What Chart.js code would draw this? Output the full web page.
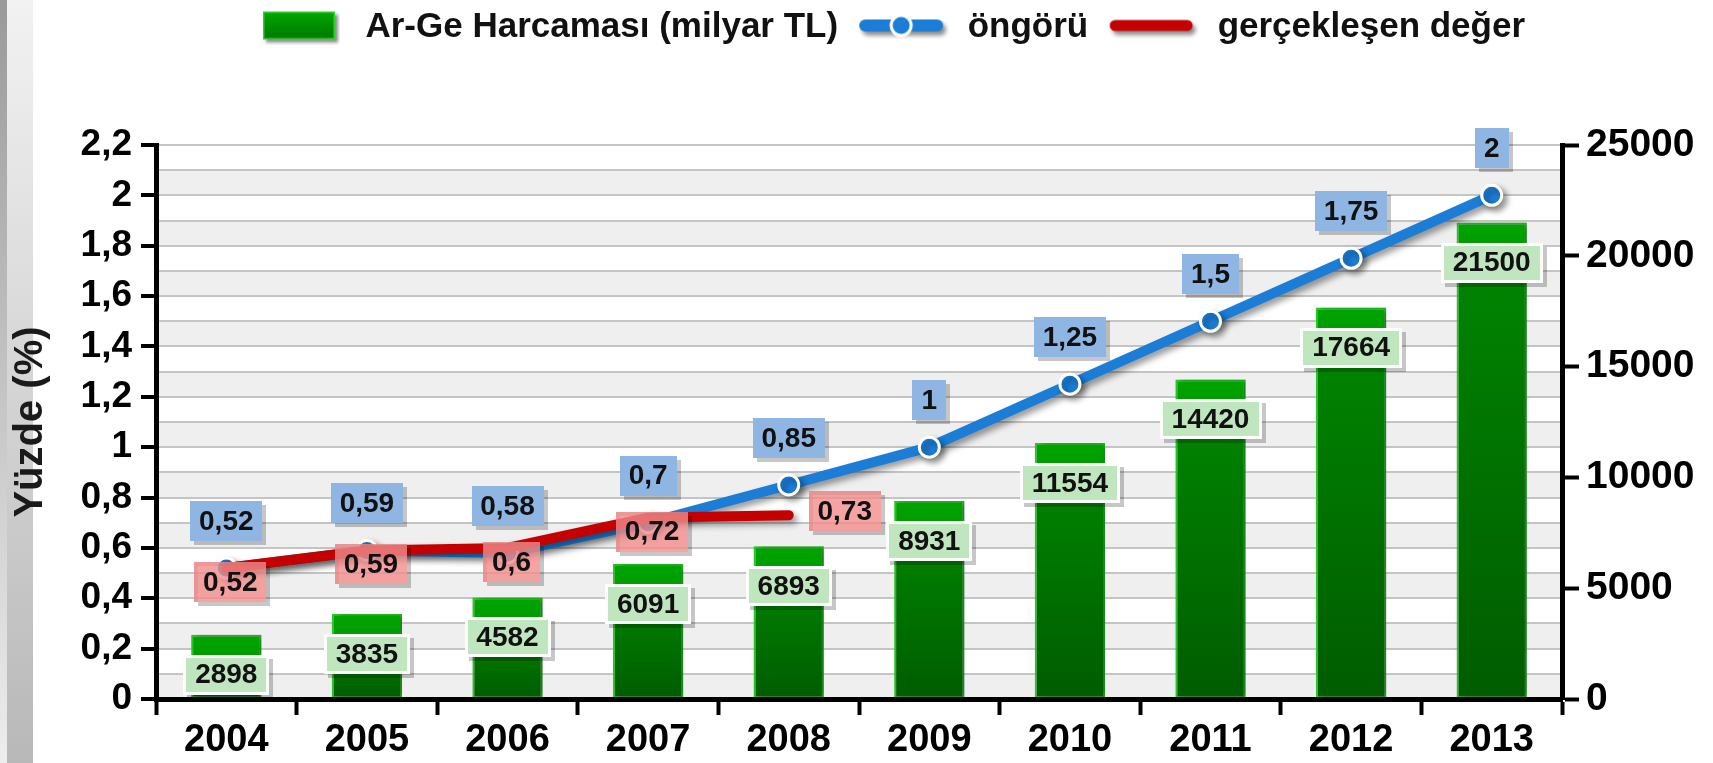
<!DOCTYPE html>
<html lang="tr">
<head>
    <meta charset="UTF-8">
    <title>Ar-Ge Harcaması</title>
    <script src="https://cdn.jsdelivr.net/npm/chart.js"></script>
    <style>
        body {
            margin: 0;
            background:
                linear-gradient(to bottom, #9a9a9a, #ededed) 0 0 / 7px 100% no-repeat,
                linear-gradient(to bottom, #f2f2f2, #b8b8b8) 7px 0 / 26px 100% no-repeat,
                #ffffff;
        }
        #wrap { width: 1713px; height: 763px; }
    </style>
</head>
<body>
<div id="wrap"><canvas id="argeChart" width="1713" height="763"></canvas></div>

<script>
    // data
    const years = ['2004', '2005', '2006', '2007', '2008', '2009', '2010', '2011', '2012', '2013'];
    const argeSpending = [2898, 3835, 4582, 6091, 6893, 8931, 11554, 14420, 17664, 21500];
    const forecastPct = [0.52, 0.59, 0.58, 0.7, 0.85, 1, 1.25, 1.5, 1.75, 2];
    const actualPct = [0.52, 0.59, 0.6, 0.72, 0.73, null, null, null, null, null];
    const pctMax = 2.2;
    const spendMax = 25000;

    const FONT = '"Liberation Sans", Arial, sans-serif';
    const BLUE = '#1b7dd6';
    const RED = '#c40000';

    const trComma = v => String(Math.round(v * 100) / 100).replace('.', ',');

    // small canvases used as legend symbols
    function makeIcon(w, h, paint) {
        const c = document.createElement('canvas');
        c.width = w; c.height = h;
        paint(c.getContext('2d'));
        return c;
    }
    const barIcon = makeIcon(78, 34, g => {
        g.shadowColor = 'rgba(0,0,0,0.45)'; g.shadowBlur = 3; g.shadowOffsetX = 3; g.shadowOffsetY = 3;
        const gr = g.createLinearGradient(0, 1, 0, 29);
        gr.addColorStop(0, '#00a800'); gr.addColorStop(1, '#007800');
        g.fillStyle = gr; g.fillRect(1, 1, 72, 28);
        g.shadowColor = 'transparent';
        g.strokeStyle = '#2ed12e'; g.lineWidth = 1.5; g.strokeRect(1.75, 1.75, 70.5, 26.5);
    });
    const forecastIcon = makeIcon(92, 32, g => {
        g.shadowColor = 'rgba(0,0,0,0.45)'; g.shadowBlur = 4; g.shadowOffsetX = 3; g.shadowOffsetY = 4;
        g.strokeStyle = BLUE; g.lineWidth = 12; g.lineCap = 'round';
        g.beginPath(); g.moveTo(8, 14); g.lineTo(80, 14); g.stroke();
        g.shadowColor = 'transparent';
        g.fillStyle = BLUE; g.strokeStyle = '#fff'; g.lineWidth = 3;
        g.beginPath(); g.arc(44, 14, 10, 0, Math.PI * 2); g.fill(); g.stroke();
    });
    const actualIcon = makeIcon(92, 28, g => {
        g.shadowColor = 'rgba(0,0,0,0.45)'; g.shadowBlur = 4; g.shadowOffsetX = 3; g.shadowOffsetY = 4;
        g.strokeStyle = RED; g.lineWidth = 11; g.lineCap = 'round';
        g.beginPath(); g.moveTo(8, 12); g.lineTo(80, 12); g.stroke();
    });

    // bar fill: bright band at the top, darker towards the base
    function barFill(context) {
        const chart = context.chart;
        if (!chart.chartArea || context.raw == null) return '#008800';
        const y2 = chart.scales.y2;
        const top = y2.getPixelForValue(context.raw);
        const bottom = y2.getPixelForValue(0);
        const h = Math.max(bottom - top, 1);
        const g = chart.ctx.createLinearGradient(0, top, 0, bottom);
        g.addColorStop(0, '#00a400');
        g.addColorStop(Math.min(0.98, 22 / h), '#009c00');
        g.addColorStop(Math.min(0.99, 24 / h), '#008600');
        g.addColorStop(1, '#005c00');
        return g;
    }

    // alternating light bands behind the grid
    const bandsPlugin = {
        id: 'bands',
        beforeDraw(chart) {
            const {ctx, chartArea: a, scales: {y}} = chart;
            ctx.save();
            ctx.fillStyle = '#ffffff';
            ctx.fillRect(a.left, a.top, a.right - a.left, a.bottom - a.top);
            ctx.fillStyle = '#efefef';
            for (let k = 0; k < 11; k++) {
                const y0 = y.getPixelForValue(k * 0.2);
                const y1 = y.getPixelForValue(k * 0.2 + 0.1);
                ctx.fillRect(a.left, y1, a.right - a.left, y0 - y1);
            }
            ctx.restore();
            // keep the legend where the reference has it
            const lg = chart.legend;
            lg.left = 66; lg.right = 1713; lg.top = -8;
        }
    };

    // drop shadows for bars and lines
    const shadowPlugin = {
        id: 'shadows',
        beforeDatasetDraw(chart, args) {
            const ctx = chart.ctx;
            ctx.save();
            ctx.shadowColor = 'rgba(0,0,0,0.4)';
            ctx.shadowBlur = 6;
            ctx.shadowOffsetX = 4;
            ctx.shadowOffsetY = args.meta.type === 'bar' ? 0 : 4;
        },
        afterDatasetDraw(chart) {
            chart.ctx.restore();
        }
    };

    function drawTag(ctx, text, cx, cy, fill, border, pad) {
        ctx.save();
        ctx.font = 'bold 28px ' + FONT;
        const w = Math.round(ctx.measureText(text).width + pad * 2), h = 40;
        const x = Math.round(cx - w / 2), y = Math.round(cy - h / 2);
        // shadow, but not under the box itself (fills may be translucent)
        ctx.beginPath();
        ctx.rect(x + 4, y + 4, w, h);
        ctx.rect(x, y, w, h);
        ctx.fillStyle = 'rgba(0,0,0,0.22)';
        ctx.fill('evenodd');
        ctx.fillStyle = fill;
        ctx.fillRect(x, y, w, h);
        if (border) {
            ctx.strokeStyle = border; ctx.lineWidth = 3;
            ctx.strokeRect(x + 1.5, y + 1.5, w - 3, h - 3);
        }
        ctx.fillStyle = '#111';
        ctx.textAlign = 'center';
        ctx.textBaseline = 'middle';
        ctx.fillText(text, cx, cy + 1);
        ctx.restore();
    }

    // value boxes on bars and points
    const tagsPlugin = {
        id: 'tags',
        afterDatasetsDraw(chart) {
            const ctx = chart.ctx;
            chart.getDatasetMeta(0).data.forEach((el, i) => {
                drawTag(ctx, String(argeSpending[i]), el.x, el.y + 40, '#c0e6c0', 'rgba(255,255,255,0.95)', 12);
            });
            chart.getDatasetMeta(1).data.forEach((el, i) => {
                drawTag(ctx, trComma(forecastPct[i]), el.x, el.y - 47, '#8fb6e2', null, 9);
            });
            const last = actualPct.reduce((acc, v, i) => v == null ? acc : i, 0);
            chart.getDatasetMeta(2).data.forEach((el, i) => {
                if (actualPct[i] == null) return;
                if (i === last) {
                    drawTag(ctx, trComma(actualPct[i]), el.x + 56, el.y - 4, 'rgba(242,140,140,0.8)', null, 9);
                } else {
                    drawTag(ctx, trComma(actualPct[i]), el.x + 4, el.y + 14, 'rgba(242,140,140,0.8)', null, 9);
                }
            });
        }
    };

    // fixed legend height so the plot starts at the same place
    const legendHeight = {
        id: 'legendHeight',
        beforeInit(chart) {
            const fit = chart.legend.fit;
            chart.legend.fit = function () {
                fit.bind(chart.legend)();
                this.height = 145;
            };
        }
    };

    const ctx = document.getElementById('argeChart').getContext('2d');

    new Chart(ctx, {
        type: 'bar',
        data: {
            labels: years,
            datasets: [
                {
                    type: 'bar',
                    label: 'Ar-Ge Harcaması (milyar TL)',
                    data: argeSpending,
                    yAxisID: 'y2',
                    backgroundColor: barFill,
                    borderColor: '#25c925',
                    borderWidth: 2,
                    borderSkipped: false,
                    barPercentage: 0.5,
                    categoryPercentage: 1.0,
                    order: 3
                },
                {
                    type: 'line',
                    label: 'öngörü',
                    data: forecastPct,
                    yAxisID: 'y',
                    borderColor: BLUE,
                    borderWidth: 10,
                    tension: 0,
                    pointRadius: 10,
                    pointBackgroundColor: BLUE,
                    pointBorderColor: '#ffffff',
                    pointBorderWidth: 3,
                    order: 2
                },
                {
                    type: 'line',
                    label: 'gerçekleşen değer',
                    data: actualPct,
                    yAxisID: 'y',
                    borderColor: RED,
                    borderWidth: 10,
                    borderCapStyle: 'round',
                    borderJoinStyle: 'round',
                    tension: 0,
                    pointRadius: 0,
                    spanGaps: false,
                    order: 1
                }
            ]
        },
        options: {
            responsive: false,
            animation: false,
            layout: { padding: 0 },
            plugins: {
                tooltip: { enabled: false },
                legend: {
                    position: 'top',
                    labels: {
                        usePointStyle: true,
                        pointStyleWidth: 94,
                        padding: 18,
                        color: '#111',
                        font: { family: FONT, size: 35, weight: 'bold' },
                        generateLabels(chart) {
                            const icons = [barIcon, forecastIcon, actualIcon];
                            return chart.data.datasets.map((ds, i) => ({
                                text: ds.label,
                                pointStyle: icons[i],
                                datasetIndex: i,
                                fontColor: '#111',
                                fillStyle: 'transparent',
                                strokeStyle: 'transparent',
                                lineWidth: 0,
                                hidden: false
                            }));
                        }
                    }
                }
            },
            scales: {
                x: {
                    offset: true,
                    grid: {
                        offset: true,
                        drawOnChartArea: false,
                        tickLength: 16,
                        tickWidth: 4,
                        tickColor: '#000'
                    },
                    border: { color: '#000', width: 5, z: 1 },
                    ticks: {
                        color: '#000',
                        padding: 3,
                        font: { family: FONT, size: 38, weight: 'bold' }
                    },
                    afterFit(scale) { scale.height = 64; }
                },
                y: {
                    position: 'left',
                    min: 0,
                    max: pctMax,
                    grid: {
                        color: '#c4c4c4',
                        lineWidth: 2,
                        tickLength: 15,
                        tickWidth: 4,
                        tickColor: c => Math.round(c.tick.value * 10) % 2 === 0 ? '#000' : 'rgba(0,0,0,0)'
                    },
                    border: { color: '#000', width: 5, z: 1 },
                    ticks: {
                        stepSize: 0.1,
                        autoSkip: false,
                        padding: 9,
                        color: '#000',
                        font: { family: FONT, size: 37, weight: 'bold' },
                        callback: v => Math.round(v * 10) % 2 === 0 ? trComma(v) : ''
                    },
                    title: {
                        display: true,
                        text: 'Yüzde (%)',
                        color: '#1a1a1a',
                        font: { family: FONT, size: 40, weight: 'bold' },
                        padding: { top: 7, bottom: 0 }
                    },
                    afterFit(scale) { scale.width = 156; }
                },
                y2: {
                    position: 'right',
                    min: 0,
                    max: spendMax,
                    grid: {
                        drawOnChartArea: false,
                        tickLength: 17,
                        tickWidth: 4,
                        tickColor: '#000'
                    },
                    border: { color: '#000', width: 5, z: 1 },
                    ticks: {
                        stepSize: 5000,
                        padding: 7,
                        color: '#000',
                        font: { family: FONT, size: 39, weight: 'bold' },
                        callback: v => String(v)
                    },
                    afterFit(scale) { scale.width = 151; }
                }
            }
        },
        plugins: [legendHeight, bandsPlugin, shadowPlugin, tagsPlugin]
    });
</script>
</body>
</html>
